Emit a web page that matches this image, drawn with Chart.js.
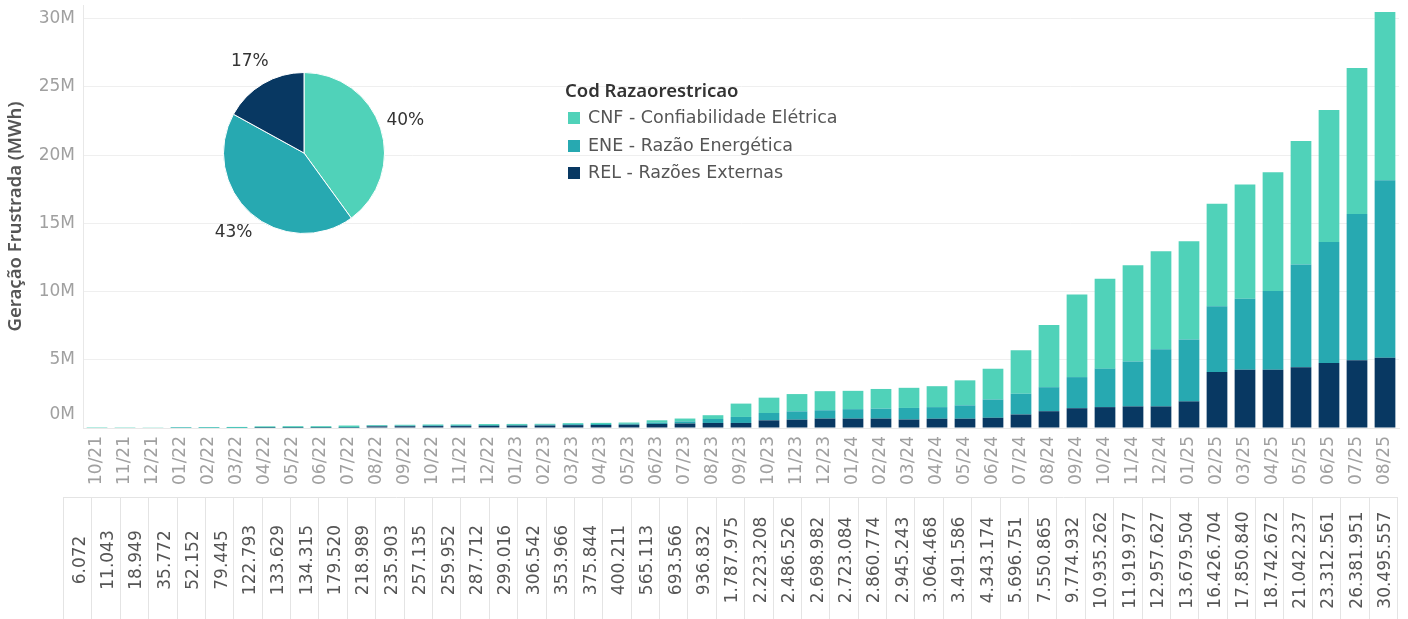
<!DOCTYPE html>
<html lang="pt-BR">
<head>
<meta charset="utf-8">
<script src="https://cdn.jsdelivr.net/npm/chart.js@4.4.1/dist/chart.umd.min.js"></script>
<style>
  html, body { margin: 0; padding: 0; background: #fff; }
  #wrap { position: relative; width: 1408px; height: 619px; overflow: hidden; font-family: "DejaVu Sans", sans-serif; }
  #main { position: absolute; left: 0; top: 0; }
  #pie { position: absolute; left: 174px; top: 23px; }
  #legenda { position: absolute; left: 565px; top: 77px; color: #555; }
  #legenda .titulo { font-family: "Noto Sans", sans-serif; font-size: 18.5px; font-weight: 600; color: #333; height: 27px; line-height: 25px; }
  #legenda .item { font-size: 17.5px; height: 27.5px; line-height: 27px; white-space: nowrap; }
  #legenda .cor { display: inline-block; width: 12px; height: 12px; margin: 0 8px 0 3px; vertical-align: -1px; }
</style>
</head>
<body>
<div id="wrap">
  <canvas id="main" width="1408" height="619"></canvas>
  <canvas id="pie" width="260" height="260"></canvas>
  <div id="legenda">
    <div class="titulo">Cod Razaorestricao</div>
    <div class="item"><span class="cor" style="background:#50d2b9"></span>CNF - Confiabilidade Elétrica</div>
    <div class="item"><span class="cor" style="background:#27a9b1"></span>ENE - Razão Energética</div>
    <div class="item"><span class="cor" style="background:#083862"></span>REL - Razões Externas</div>
  </div>
</div>
<script>
// meses (mm/aa)
const meses = [
  "10/21", "11/21", "12/21",
  "01/22", "02/22", "03/22", "04/22", "05/22", "06/22", "07/22", "08/22", "09/22", "10/22", "11/22", "12/22",
  "01/23", "02/23", "03/23", "04/23", "05/23", "06/23", "07/23", "08/23", "09/23", "10/23", "11/23", "12/23",
  "01/24", "02/24", "03/24", "04/24", "05/24", "06/24", "07/24", "08/24", "09/24", "10/24", "11/24", "12/24",
  "01/25", "02/25", "03/25", "04/25", "05/25", "06/25", "07/25", "08/25"
];

// total por mês (MWh) - tabela de baixo
const totais = [
  6072, 11043, 18949,
  35772, 52152, 79445, 122793, 133629, 134315, 179520, 218989, 235903, 257135, 259952, 287712,
  299016, 306542, 353966, 375844, 400211, 565113, 693566, 936832, 1787975, 2223208, 2486526, 2698982,
  2723084, 2860774, 2945243, 3064468, 3491586, 4343174, 5696751, 7550865, 9774932, 10935262, 11919977, 12957627,
  13679504, 16426704, 17850840, 18742672, 21042237, 23312561, 26381951, 30495557
];

// séries em milhões de MWh
const rel = [
  0, 0, 0,
  0, 0, 0, 0.005, 0.006, 0.006, 0.008, 0.12, 0.13, 0.14, 0.14, 0.16,
  0.17, 0.18, 0.21, 0.22, 0.24, 0.30, 0.33, 0.37, 0.37, 0.56, 0.61, 0.69,
  0.69, 0.69, 0.62, 0.68, 0.68, 0.75, 0.99, 1.23, 1.45, 1.53, 1.58, 1.58,
  1.95, 4.10, 4.27, 4.27, 4.46, 4.76, 4.96, 5.15
];
const ene = [
  0, 0, 0,
  0.004, 0.006, 0.009, 0.025, 0.027, 0.027, 0.032, 0.05, 0.05, 0.06, 0.06, 0.06,
  0.06, 0.06, 0.07, 0.07, 0.07, 0.10, 0.15, 0.29, 0.44, 0.54, 0.61, 0.61,
  0.69, 0.73, 0.85, 0.85, 0.98, 1.34, 1.52, 1.76, 2.28, 2.82, 3.30, 4.19,
  4.53, 4.82, 5.21, 5.77, 7.52, 8.88, 10.72, 13.00
];
const cnf = [
  0.006, 0.011, 0.019,
  0.032, 0.046, 0.070, 0.093, 0.101, 0.101, 0.140, 0.049, 0.056, 0.057, 0.060, 0.068,
  0.069, 0.067, 0.074, 0.086, 0.090, 0.165, 0.214, 0.277, 0.978, 1.123, 1.267, 1.399,
  1.343, 1.441, 1.475, 1.534, 1.832, 2.253, 3.187, 4.561, 6.045, 6.585, 7.040, 7.188,
  7.200, 7.507, 8.371, 8.703, 9.062, 9.673, 10.702, 12.346
];

// participação (%) - pizza
const pizzaRotulos = ["CNF - Confiabilidade Elétrica", "ENE - Razão Energética", "REL - Razões Externas"];
const pizzaValores = [40, 43, 17];

const cores = {
  cnf: "#50d2b9",
  ene: "#27a9b1",
  rel: "#083862",
};

const fonte = '"DejaVu Sans", sans-serif';

const formatarMilhar = (n) => String(n).replace(/\B(?=(\d{3})+(?!\d))/g, ".");

// Tabela de totais abaixo do eixo x
const tabelaPlugin = {
  id: "tabela",
  afterDraw(chart) {
    const { ctx } = chart;
    const x = chart.scales.x;
    const topo = x.bottom + 1;
    const fundo = chart.height;
    const esq = x.left - 20;
    const dir = x.right - 2;
    const larg = (dir - esq) / totais.length;

    ctx.save();
    ctx.strokeStyle = "#e4e4e4";
    ctx.lineWidth = 1;
    ctx.beginPath();
    ctx.moveTo(esq, topo + 0.5);
    ctx.lineTo(dir, topo + 0.5);
    for (let i = 0; i <= totais.length; i++) {
      const px = Math.round(esq + i * larg) + 0.5;
      ctx.moveTo(px, topo);
      ctx.lineTo(px, fundo);
    }
    ctx.stroke();

    ctx.fillStyle = "#555";
    ctx.font = "17px " + fonte;
    ctx.textAlign = "center";
    ctx.textBaseline = "middle";
    totais.forEach((v, i) => {
      const cx = esq + (i + 0.5) * larg + 3;
      ctx.save();
      ctx.translate(cx, topo + 63);
      ctx.rotate(-Math.PI / 2);
      ctx.fillText(formatarMilhar(v), 0, 0);
      ctx.restore();
    });
    ctx.restore();
  },
};

new Chart(document.getElementById("main").getContext("2d"), {
  type: "bar",
  data: {
    labels: meses,
    datasets: [
      { label: "REL - Razões Externas", data: rel, backgroundColor: cores.rel },
      { label: "ENE - Razão Energética", data: ene, backgroundColor: cores.ene },
      { label: "CNF - Confiabilidade Elétrica", data: cnf, backgroundColor: cores.cnf },
    ],
  },
  options: {
    responsive: false,
    animation: false,
    layout: { padding: { top: 5, right: 9, bottom: 123, left: 0 } },
    datasets: { bar: { barPercentage: 0.74, categoryPercentage: 1 } },
    plugins: {
      legend: { display: false },
      tooltip: { enabled: false },
    },
    scales: {
      x: {
        stacked: true,
        grid: { display: false, drawTicks: false },
        border: { color: "#e8e8e8" },
        ticks: {
          color: "#a0a0a0",
          font: { family: fonte, size: 17 },
          minRotation: 90,
          maxRotation: 90,
          padding: 8,
          autoSkip: false,
        },
        afterFit: (s) => {
          s.height = 68;
          s.paddingLeft = 0;
          s.paddingRight = 0;
        },
      },
      y: {
        stacked: true,
        min: 0,
        max: 31,
        grid: { color: "#efefef", drawTicks: false },
        border: { color: "#e8e8e8" },
        ticks: {
          stepSize: 5,
          includeBounds: false,
          color: "#a0a0a0",
          padding: 8,
          // o rótulo do zero fica um pouco acima da base, como no original
          font: (c) => ({ family: fonte, size: 17, lineHeight: c.tick && c.tick.value === 0 ? 1.6 : 1.2 }),
          callback: (v) => (v === 0 ? ["0M", ""] : v + "M"),
        },
        title: {
          display: true,
          text: "Geração Frustrada (MWh)",
          color: "#555",
          font: { family: '"Noto Sans", sans-serif', size: 18.5, weight: "600" },
          padding: { top: 5, bottom: 0 },
        },
        afterFit: (s) => {
          s.width = 83;
          s.paddingTop = 0;
          s.paddingBottom = 0;
        },
      },
    },
  },
  plugins: [tabelaPlugin],
});

// Rótulos de porcentagem fora da pizza
const rotulosPizza = {
  id: "rotulosPizza",
  afterDatasetsDraw(chart) {
    const { ctx } = chart;
    const meta = chart.getDatasetMeta(0);
    ctx.save();
    ctx.fillStyle = "#333";
    ctx.font = "17px " + fonte;
    ctx.textAlign = "center";
    ctx.textBaseline = "middle";
    meta.data.forEach((arc, i) => {
      const p = arc.getProps(["x", "y", "startAngle", "endAngle", "outerRadius"], true);
      const meio = (p.startAngle + p.endAngle) / 2;
      const r = p.outerRadius + 26;
      ctx.fillText(pizzaValores[i] + "%", p.x + Math.cos(meio) * r, p.y + Math.sin(meio) * r);
    });
    ctx.restore();
  },
};

new Chart(document.getElementById("pie").getContext("2d"), {
  type: "pie",
  data: {
    labels: pizzaRotulos,
    datasets: [{
      data: pizzaValores,
      backgroundColor: [cores.cnf, cores.ene, cores.rel],
      borderColor: "#ffffff",
      borderWidth: 1,
    }],
  },
  options: {
    responsive: false,
    animation: false,
    layout: { padding: 49 },
    plugins: { legend: { display: false }, tooltip: { enabled: false } },
  },
  plugins: [rotulosPizza],
});
</script>
</body>
</html>
